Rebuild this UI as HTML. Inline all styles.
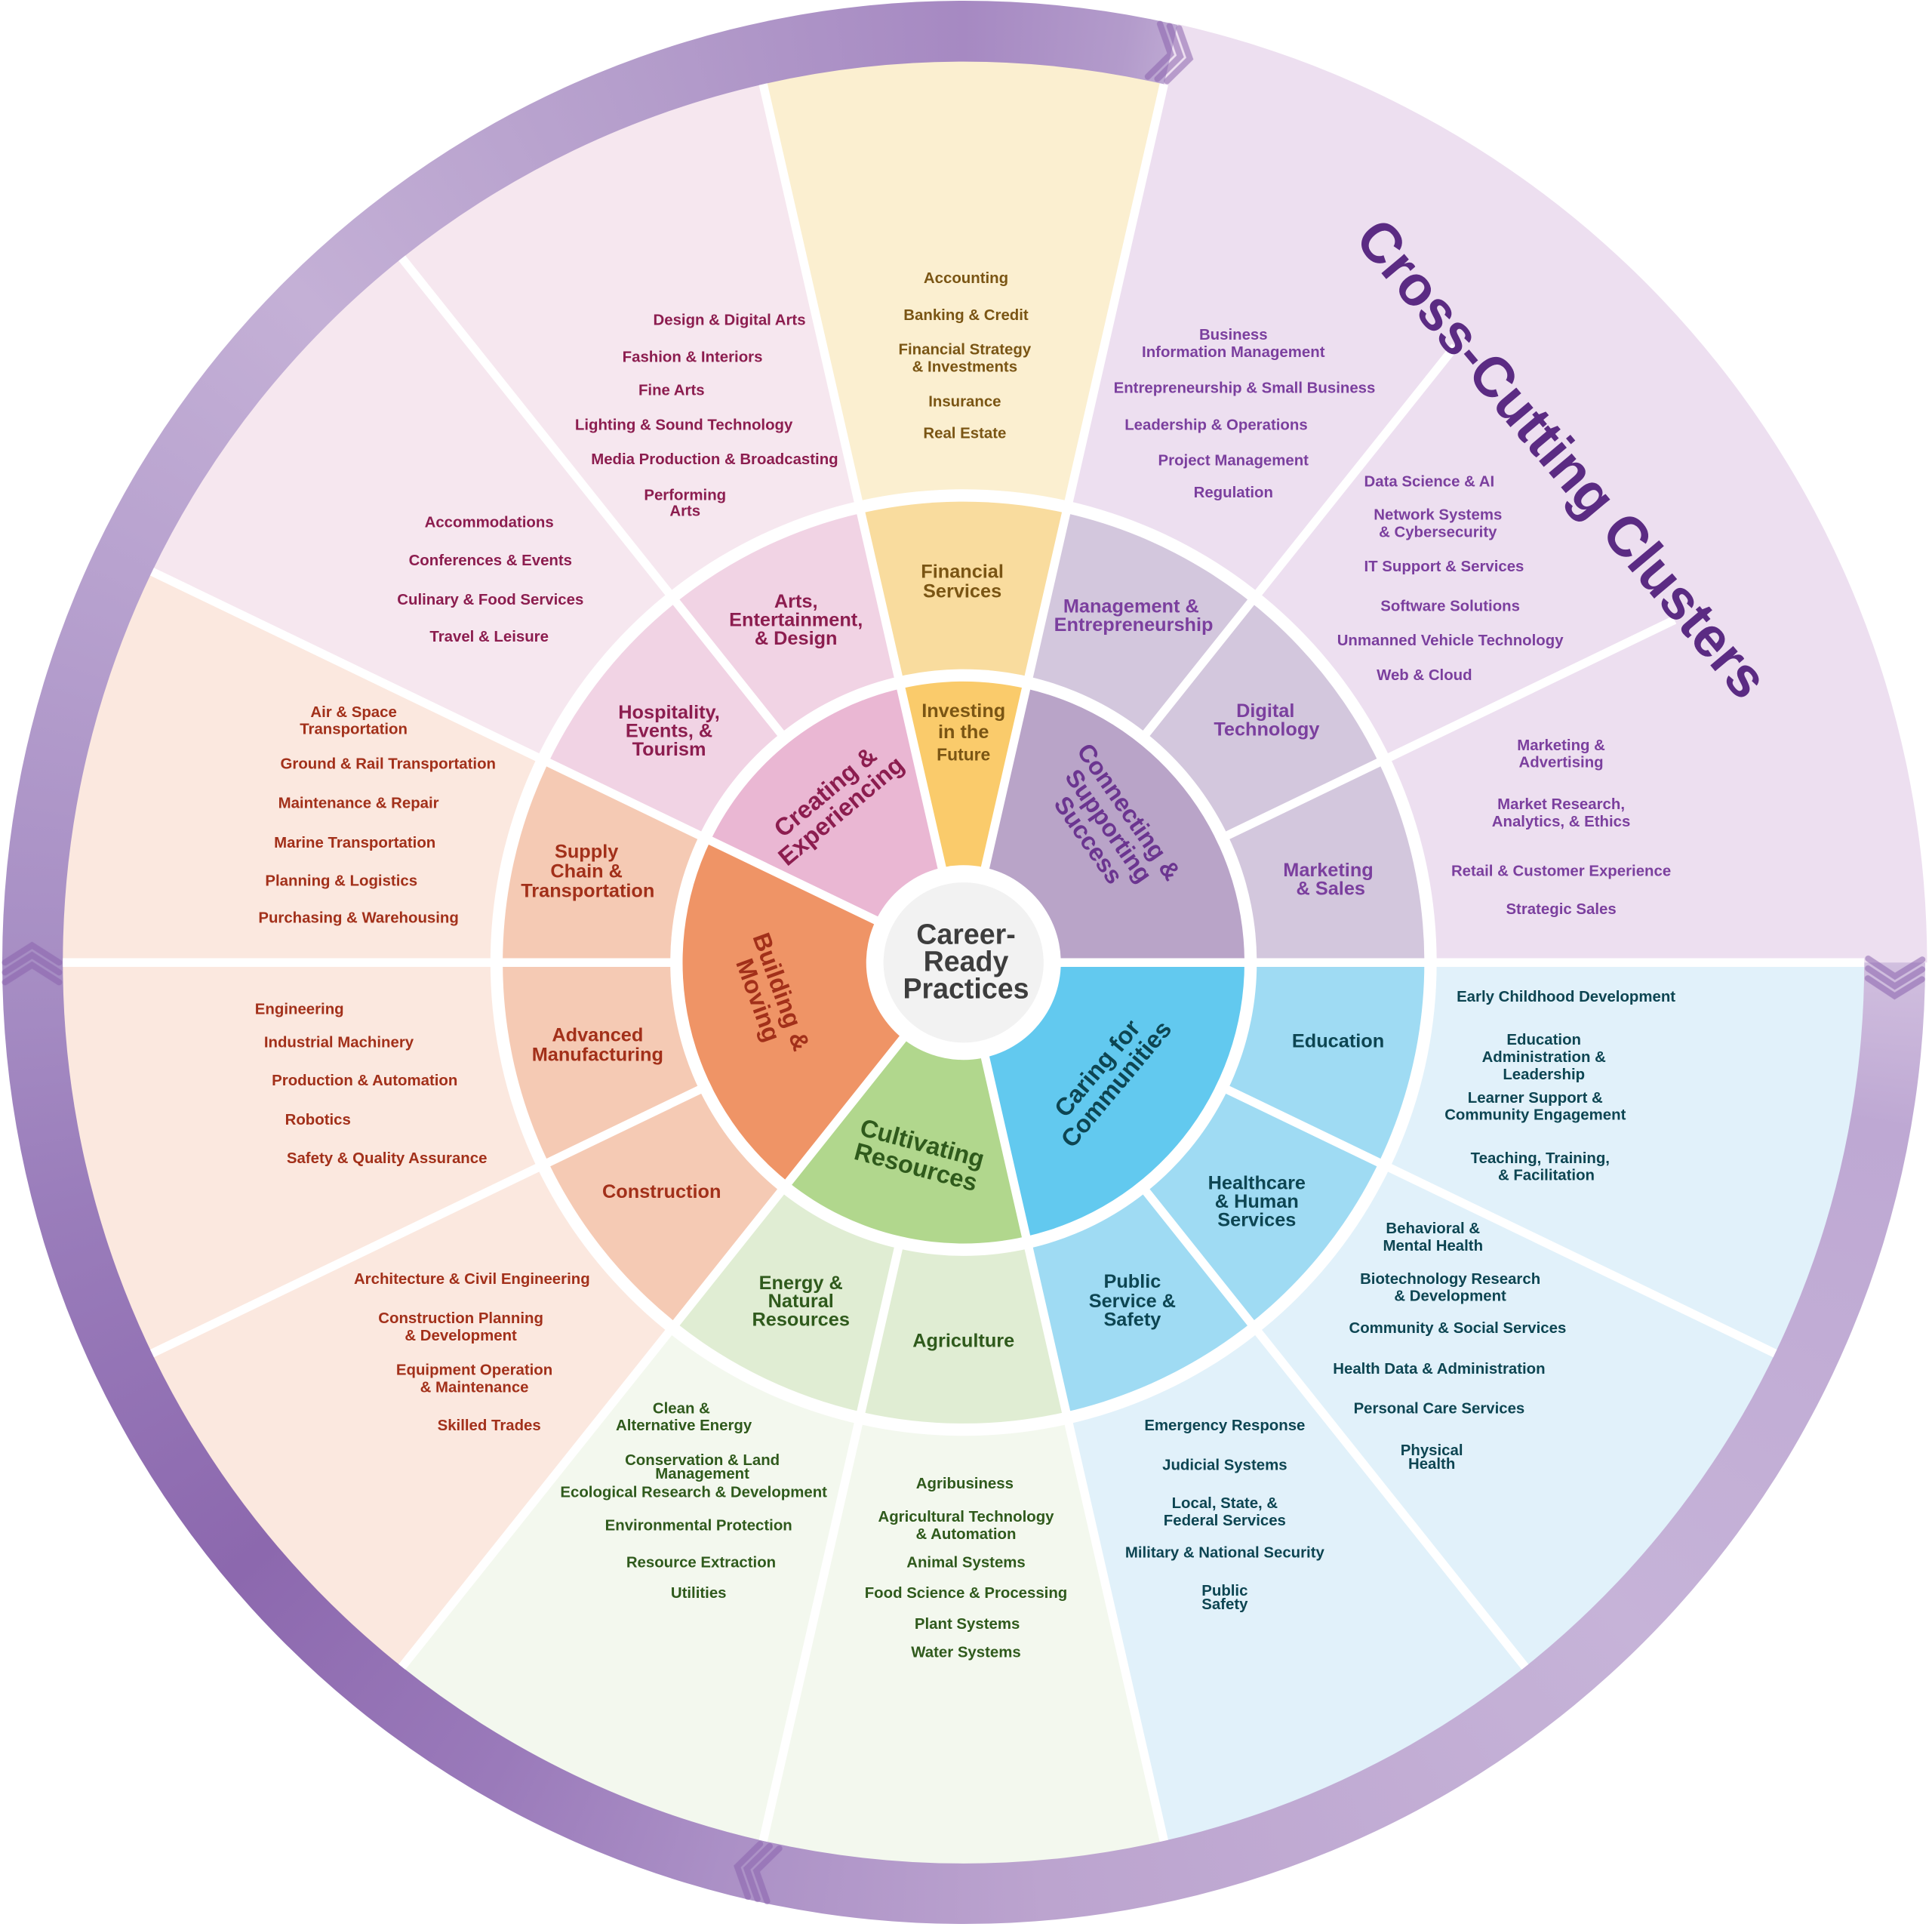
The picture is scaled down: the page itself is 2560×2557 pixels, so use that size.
<!DOCTYPE html>
<html><head><meta charset="utf-8"><style>
html,body{margin:0;padding:0;background:#fff;}
body{position:relative;width:2560px;height:2557px;overflow:hidden;}
#ring{position:absolute;left:3px;top:1px;width:2548px;height:2548px;border-radius:50%;
background:conic-gradient(from 0deg,#a689c2 0deg,#b39bcb 10deg,#c8b5da 16deg,#d9cbe5 30deg,#e4d6eb 80deg,#bea8d3 100deg,#c6b3d8 135deg,#bca4cf 175deg,#ab90c6 195deg,#9a7aba 210deg,#8c68ae 230deg,#9a7dbb 255deg,#a78ec4 270deg,#b8a2cf 295deg,#c4b0d6 315deg,#b49dcb 340deg,#a689c2 360deg);}
svg{position:absolute;left:0;top:0;display:block;}
text{font-family:"Liberation Sans",Arial,sans-serif;font-weight:bold;}
</style></head><body>
<div id="ring"></div>
<svg width="2560" height="2557" viewBox="0 0 1568 1566" preserveAspectRatio="none" xmlns="http://www.w3.org/2000/svg">
<g transform="translate(782,781)">
<!-- outer -->
<path d="M0,0 L731,0 A731,731 0 0 1 162.66,712.67Z" fill="#e1f1fa"/>
<path d="M0,0 L162.66,712.67 A731,731 0 0 1 -455.77,571.52Z" fill="#f3f8ee"/>
<path d="M0,0 L-455.77,571.52 A731,731 0 0 1 -658.61,-317.17Z" fill="#fbe8df"/>
<path d="M0,0 L-658.61,-317.17 A731,731 0 0 1 -162.66,-712.67Z" fill="#f6e7ef"/>
<path d="M0,0 L-162.66,-712.67 A731,731 0 0 1 162.66,-712.67Z" fill="#fbefd0"/>
<path d="M0,0 L162.66,-712.67 L173.79,-761.42 A781,781 0 0 1 782,0Z" fill="#eddff0"/>
<circle r="384" fill="#fff"/>
<!-- middle -->
<path d="M0,0 L374,0 A374,374 0 0 1 83.22,364.62Z" fill="#9fdbf3"/>
<path d="M0,0 L83.22,364.62 A374,374 0 0 1 -233.19,292.40Z" fill="#e0edd3"/>
<path d="M0,0 L-233.19,292.40 A374,374 0 0 1 -336.96,-162.27Z" fill="#f5cab4"/>
<path d="M0,0 L-336.96,-162.27 A374,374 0 0 1 -83.22,-364.62Z" fill="#f1d3e4"/>
<path d="M0,0 L-83.22,-364.62 A374,374 0 0 1 83.22,-364.62Z" fill="#f9dc9e"/>
<path d="M0,0 L83.22,-364.62 A374,374 0 0 1 374,0Z" fill="#d3c7dd"/>
<circle r="238" fill="#fff"/>
<!-- core -->
<path d="M0,0 L228,0 A228,228 0 0 1 50.73,222.28Z" fill="#62c9ef"/>
<path d="M0,0 L50.73,222.28 A228,228 0 0 1 -142.16,178.26Z" fill="#b1d78d"/>
<path d="M0,0 L-142.16,178.26 A228,228 0 0 1 -205.42,-98.92Z" fill="#ef9466"/>
<path d="M0,0 L-205.42,-98.92 A228,228 0 0 1 -50.73,-222.28Z" fill="#eab7d3"/>
<path d="M0,0 L-50.73,-222.28 A228,228 0 0 1 50.73,-222.28Z" fill="#facb6b"/>
<path d="M0,0 L50.73,-222.28 A228,228 0 0 1 228,0Z" fill="#b9a4c8"/>
<!-- separators -->
<g stroke="#fff" stroke-width="7">
<line x1="0" y1="0" x2="731" y2="0"/>
<line x1="0" y1="0" x2="162.66" y2="712.67"/>
<line x1="0" y1="0" x2="-455.77" y2="571.52"/>
<line x1="0" y1="0" x2="-658.61" y2="-317.17"/>
<line x1="0" y1="0" x2="-162.66" y2="-712.67"/>
<line x1="0" y1="0" x2="162.66" y2="-712.67"/>
<line x1="205.4" y1="98.9" x2="658.61" y2="317.17"/>
<line x1="142.2" y1="178.3" x2="455.77" y2="571.52"/>
<line x1="-50.7" y1="222.3" x2="-162.66" y2="712.67"/>
<line x1="-205.4" y1="98.9" x2="-658.61" y2="317.17"/>
<line x1="-228" y1="0" x2="-731" y2="0"/>
<line x1="-142.2" y1="-178.3" x2="-455.77" y2="-571.52"/>
<line x1="142.2" y1="-178.3" x2="399" y2="-500"/>
<line x1="205.4" y1="-98.9" x2="577" y2="-278"/>
</g>
<circle r="79" fill="#fff"/>
<circle r="65" fill="#f2f2f2"/>
<!-- chevrons -->
<g fill="none" stroke="#8a63ad" stroke-width="5" stroke-linecap="round" opacity="0.55">
<g transform="rotate(-77) translate(756,0)"><polyline points="-22,-16 0,-2 22,-16"/><polyline points="-22,-8 0,6 22,-8"/><polyline points="-22,0 0,14 22,0"/></g>
<g transform="rotate(180) translate(756,0)"><polyline points="-22,-16 0,-2 22,-16"/><polyline points="-22,-8 0,6 22,-8"/><polyline points="-22,0 0,14 22,0"/></g>
<g transform="rotate(103) translate(756,0)"><polyline points="-22,-16 0,-2 22,-16"/><polyline points="-22,-8 0,6 22,-8"/><polyline points="-22,0 0,14 22,0"/></g>
<g transform="rotate(1) translate(756,0)"><polyline points="-22,-16 0,-2 22,-16"/><polyline points="-22,-8 0,6 22,-8"/><polyline points="-22,0 0,14 22,0"/></g>
</g>
</g>

<!-- center text -->
<g fill="#3d3d3d" font-size="23" text-anchor="middle" dominant-baseline="central">
<text x="784" y="758">Career-</text><text x="784" y="780">Ready</text><text x="784" y="802">Practices</text>
</g>

<text x="1268" y="372" transform="rotate(50 1268 372)" font-size="46" fill="#5b2b83" text-anchor="middle" dominant-baseline="central" textLength="490" lengthAdjust="spacingAndGlyphs">Cross-Cutting Clusters</text>

<!-- outer labels -->
<g font-size="12.5" text-anchor="middle" dominant-baseline="central">
<g fill="#8c1d4f">
<text x="592" y="260">Design &amp; Digital Arts</text><text x="562" y="290">Fashion &amp; Interiors</text><text x="545" y="317">Fine Arts</text><text x="555" y="345">Lighting &amp; Sound Technology</text><text x="580" y="373">Media Production &amp; Broadcasting</text><text x="556" y="402">Performing</text><text x="556" y="415">Arts</text>
<text x="397" y="424">Accommodations</text><text x="398" y="455">Conferences &amp; Events</text><text x="398" y="487">Culinary &amp; Food Services</text><text x="397" y="517">Travel &amp; Leisure</text>
</g>
<g fill="#7a5514">
<text x="784" y="226">Accounting</text><text x="784" y="256">Banking &amp; Credit</text><text x="783" y="284">Financial Strategy</text><text x="783" y="298">&amp; Investments</text><text x="783" y="326">Insurance</text><text x="783" y="352">Real Estate</text>
</g>
<g fill="#7b3f9e">
<text x="1001" y="272">Business</text><text x="1001" y="286">Information Management</text><text x="1010" y="315">Entrepreneurship &amp; Small Business</text><text x="987" y="345">Leadership &amp; Operations</text><text x="1001" y="374">Project Management</text><text x="1001" y="400">Regulation</text>
<text x="1160" y="391">Data Science &amp; AI</text><text x="1167" y="418">Network Systems</text><text x="1167" y="432">&amp; Cybersecurity</text><text x="1172" y="460">IT Support &amp; Services</text><text x="1177" y="492">Software Solutions</text><text x="1177" y="520">Unmanned Vehicle Technology</text><text x="1156" y="548">Web &amp; Cloud</text>
<text x="1267" y="605">Marketing &amp;</text><text x="1267" y="619">Advertising</text><text x="1267" y="653">Market Research,</text><text x="1267" y="667">Analytics, &amp; Ethics</text><text x="1267" y="707">Retail &amp; Customer Experience</text><text x="1267" y="738">Strategic Sales</text>
</g>
<g fill="#0d4552">
<text x="1271" y="809">Early Childhood Development</text><text x="1253" y="844">Education</text><text x="1253" y="858">Administration &amp;</text><text x="1253" y="872">Leadership</text><text x="1246" y="891">Learner Support &amp;</text><text x="1246" y="905">Community Engagement</text><text x="1250" y="940">Teaching, Training,</text><text x="1255" y="954">&amp; Facilitation</text>
<text x="1163" y="997">Behavioral &amp;</text><text x="1163" y="1011">Mental Health</text><text x="1177" y="1038">Biotechnology Research</text><text x="1177" y="1052">&amp; Development</text><text x="1183" y="1078">Community &amp; Social Services</text><text x="1168" y="1111">Health Data &amp; Administration</text><text x="1168" y="1143">Personal Care Services</text><text x="1162" y="1177">Physical</text><text x="1162" y="1188">Health</text>
<text x="994" y="1157">Emergency Response</text><text x="994" y="1189">Judicial Systems</text><text x="994" y="1220">Local, State, &amp;</text><text x="994" y="1234">Federal Services</text><text x="994" y="1260">Military &amp; National Security</text><text x="994" y="1291">Public</text><text x="994" y="1302">Safety</text>
</g>
<g fill="#2f5a1c">
<text x="553" y="1143">Clean &amp;</text><text x="555" y="1157">Alternative Energy</text><text x="570" y="1185">Conservation &amp; Land</text><text x="570" y="1196">Management</text><text x="563" y="1211">Ecological Research &amp; Development</text><text x="567" y="1238">Environmental Protection</text><text x="569" y="1268">Resource Extraction</text><text x="567" y="1293">Utilities</text>
<text x="783" y="1204">Agribusiness</text><text x="784" y="1231">Agricultural Technology</text><text x="784" y="1245">&amp; Automation</text><text x="784" y="1268">Animal Systems</text><text x="784" y="1293">Food Science &amp; Processing</text><text x="785" y="1318">Plant Systems</text><text x="784" y="1341">Water Systems</text>
</g>
<g fill="#a2301a">
<text x="287" y="578">Air &amp; Space</text><text x="287" y="592">Transportation</text><text x="315" y="620">Ground &amp; Rail Transportation</text><text x="291" y="652">Maintenance &amp; Repair</text><text x="288" y="684">Marine Transportation</text><text x="277" y="715">Planning &amp; Logistics</text><text x="291" y="745">Purchasing &amp; Warehousing</text>
<text x="243" y="819">Engineering</text><text x="275" y="846">Industrial Machinery</text><text x="296" y="877">Production &amp; Automation</text><text x="258" y="909">Robotics</text><text x="314" y="940">Safety &amp; Quality Assurance</text>
<text x="383" y="1038">Architecture &amp; Civil Engineering</text><text x="374" y="1070">Construction Planning</text><text x="374" y="1084">&amp; Development</text><text x="385" y="1112">Equipment Operation</text><text x="385" y="1126">&amp; Maintenance</text><text x="397" y="1157">Skilled Trades</text>
</g>
</g>

<!-- middle labels -->
<g font-size="15.5" text-anchor="middle" dominant-baseline="central">
<g fill="#8c1d4f"><text x="646" y="488">Arts,</text><text x="646" y="503">Entertainment,</text><text x="646" y="518">&amp; Design</text>
<text x="543" y="578">Hospitality,</text><text x="543" y="593">Events, &amp;</text><text x="543" y="608">Tourism</text></g>
<g fill="#7a5514"><text x="781" y="464">Financial</text><text x="781" y="480">Services</text></g>
<g fill="#7b3f9e"><text x="918" y="492">Management &amp;</text><text x="920" y="507">Entrepreneurship</text><text x="1027" y="577">Digital</text><text x="1028" y="592">Technology</text><text x="1078" y="706">Marketing</text><text x="1080" y="721">&amp; Sales</text></g>
<g fill="#0d4552"><text x="1086" y="845">Education</text><text x="1020" y="960">Healthcare</text><text x="1020" y="975">&amp; Human</text><text x="1020" y="990">Services</text><text x="919" y="1040">Public</text><text x="919" y="1056">Service &amp;</text><text x="919" y="1071">Safety</text></g>
<g fill="#2f5a1c"><text x="782" y="1088">Agriculture</text><text x="650" y="1041">Energy &amp;</text><text x="650" y="1056">Natural</text><text x="650" y="1071">Resources</text></g>
<g fill="#a2301a"><text x="537" y="967">Construction</text><text x="485" y="840">Advanced</text><text x="485" y="856">Manufacturing</text><text x="476" y="691">Supply</text><text x="476" y="707">Chain &amp;</text><text x="477" y="723">Transportation</text></g>
</g>

<!-- core labels -->
<g text-anchor="middle" dominant-baseline="central">
<g fill="#7a5514" font-size="15.5"><text x="782" y="577">Investing</text><text x="782" y="594">in the</text><text x="782" y="612" font-size="14">Future</text></g>
<g font-size="20">
<g transform="translate(676,650) rotate(-40)" fill="#8c1d4f"><text y="-10">Creating &amp;</text><text y="10">Experiencing</text></g>
<g transform="translate(900,670) rotate(55)" fill="#6b3590"><text y="-20">Connecting &amp;</text><text y="0">Supporting</text><text y="20">Success</text></g>
<g transform="translate(898,873) rotate(-50)" fill="#0d4552"><text y="-10">Caring for</text><text y="10">Communities</text></g>
<g transform="translate(746,937) rotate(15)" fill="#2f5a1c"><text y="-10">Cultivating</text><text y="10">Resources</text></g>
<g transform="translate(625,808) rotate(70)" fill="#a2301a"><text y="-10">Building &amp;</text><text y="10">Moving</text></g>
</g>
</g>
</svg>
</body></html>
